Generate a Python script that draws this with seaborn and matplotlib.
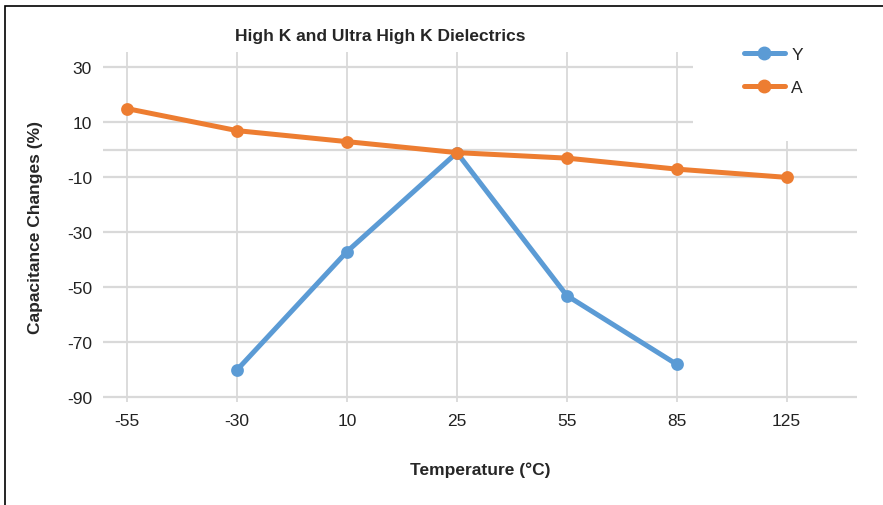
import seaborn as sns
import matplotlib.pyplot as plt
import pandas as pd
from matplotlib.lines import Line2D
from matplotlib.patches import Rectangle

# values
temps = ['-55', '-30', '10', '25', '55', '85', '125']
y_vals = [None, -80, -37, -1, -53, -78, None]
a_vals = [15, 7, 3, -1, -3, -7, -10]
series_names = ['Y', 'A']
colors = ['#5B9BD5', '#ED7D31']
ytick_vals = [30, 10, -10, -30, -50, -70, -90]

df = pd.DataFrame({
    'temp': temps * 2,
    'value': y_vals + a_vals,
    'series': ['Y'] * len(temps) + ['A'] * len(temps),
}).dropna()

sns.set_style('white')
plt.rcParams['font.family'] = ['Liberation Sans', 'DejaVu Sans']

fig = plt.figure(figsize=(8.83, 5.06), dpi=100)
ax = fig.add_axes([103 / 883, 1 - 403 / 506, 754 / 883, 350 / 506])

sns.pointplot(data=df, x='temp', y='value', hue='series', order=temps,
              hue_order=series_names, palette=colors, markers='o',
              linestyles='-', markersize=6.5, linewidth=3.6, errorbar=None,
              ax=ax, legend=False, zorder=3)

ax.set_xlim(-0.22, 6.64)
ax.set_ylim(-91.7, 35.6)
ax.set_yticks(ytick_vals)
ax.set_yticklabels([str(v) for v in ytick_vals])
ax.set_xticks(range(len(temps)))
ax.set_xticklabels(temps)

# grid
for v in ytick_vals + [0]:
    ax.axhline(v, color='#D9D9D9', lw=1.6, zorder=0)
for i in range(len(temps)):
    ax.axvline(i, color='#D9D9D9', lw=1.3, zorder=0)
# white block behind the legend
ax.add_patch(Rectangle((0.7825, 0.7457), 0.2175, 0.2543, transform=ax.transAxes,
                       facecolor='white', edgecolor='none', zorder=1))

for s in ax.spines.values():
    s.set_visible(False)
ax.tick_params(length=0, labelsize=12.5, colors='#222222', pad=8)

ax.set_xlabel('Temperature (°C)', fontsize=12.5, fontweight='bold', labelpad=24)
ax.set_ylabel('Capacitance Changes (%)', fontsize=12.5, fontweight='bold', labelpad=17)
fig.text(380 / 883, 1 - 36 / 506, 'High K and Ultra High K Dielectrics',
         ha='center', va='center', fontsize=12.5, fontweight='bold')

handles = [Line2D([], [], color=c, lw=3.6, marker='o', markersize=9) for c in colors]
fig.legend(handles, series_names, loc='upper left', bbox_to_anchor=(728 / 883, 1 - 32 / 506),
           frameon=False, fontsize=12.5, handlelength=2.4, labelspacing=1.05, handletextpad=0.35)

# outer frame
fig.add_artist(Rectangle((5 / 883, -0.05), 1.0, 1 - 7 / 506 + 0.05, transform=fig.transFigure,
                         facecolor='none', edgecolor='black', lw=1.2))

fig.savefig('out.png', dpi=100)
